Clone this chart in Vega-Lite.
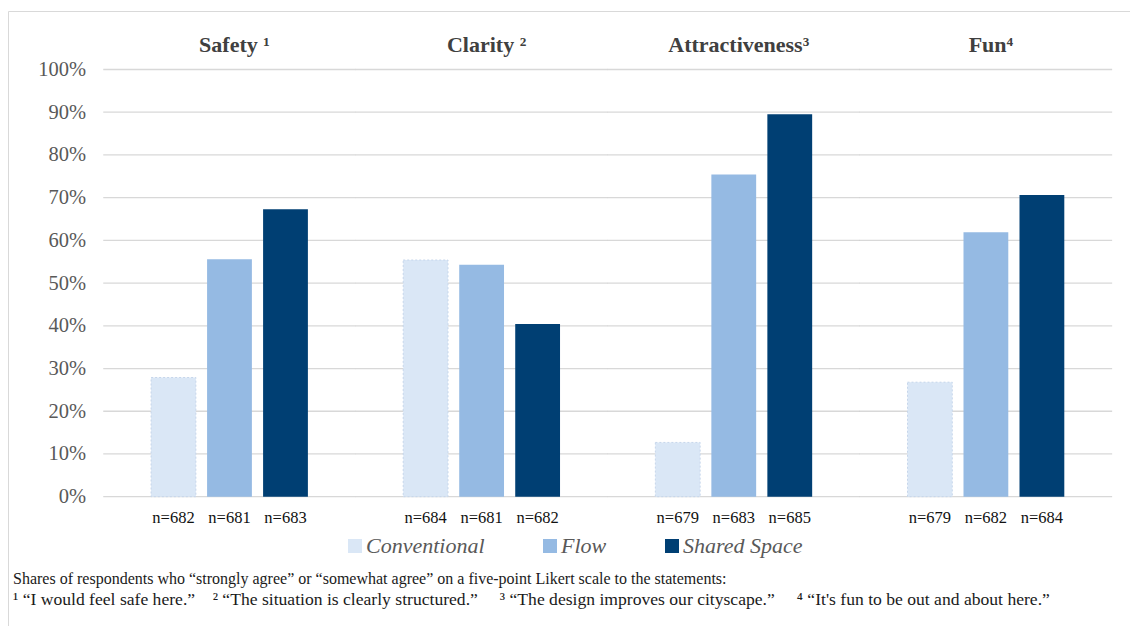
{
  "$schema": "https://vega.github.io/schema/vega-lite/v6.json",
  "autosize": {"type": "none"},
  "padding": {"left": 8, "top": 11, "right": 0, "bottom": 0},
  "width": 1122,
  "height": 615,
  "background": "white",
  "config": {
    "view": {"stroke": "#D9D9D9", "strokeWidth": 1},
    "font": "Liberation Serif"
  },
  "datasets": {
    "shares": [
      {"group": "Safety", "series": "Conventional", "share": 0.279, "n": 682},
      {"group": "Safety", "series": "Flow", "share": 0.556, "n": 681},
      {"group": "Safety", "series": "Shared Space", "share": 0.673, "n": 683},
      {"group": "Clarity", "series": "Conventional", "share": 0.554, "n": 684},
      {"group": "Clarity", "series": "Flow", "share": 0.543, "n": 681},
      {"group": "Clarity", "series": "Shared Space", "share": 0.404, "n": 682},
      {"group": "Attractiveness", "series": "Conventional", "share": 0.127, "n": 679},
      {"group": "Attractiveness", "series": "Flow", "share": 0.754, "n": 683},
      {"group": "Attractiveness", "series": "Shared Space", "share": 0.895, "n": 685},
      {"group": "Fun", "series": "Conventional", "share": 0.268, "n": 679},
      {"group": "Fun", "series": "Flow", "share": 0.619, "n": 682},
      {"group": "Fun", "series": "Shared Space", "share": 0.706, "n": 684}
    ],
    "groups": [
      {"group": "Safety", "label": "Safety ¹"},
      {"group": "Clarity", "label": "Clarity ²"},
      {"group": "Attractiveness", "label": "Attractiveness³"},
      {"group": "Fun", "label": "Fun⁴"}
    ],
    "gridTicks": [
      {"v": 0, "groups": ["Safety", "Clarity", "Attractiveness", "Fun"]},
      {"v": 0.1, "groups": ["Safety", "Clarity", "Attractiveness", "Fun"]},
      {"v": 0.2, "groups": ["Safety", "Clarity", "Attractiveness", "Fun"]},
      {"v": 0.3, "groups": ["Safety", "Clarity", "Attractiveness", "Fun"]},
      {"v": 0.4, "groups": ["Safety", "Clarity", "Attractiveness", "Fun"]},
      {"v": 0.5, "groups": ["Safety", "Clarity", "Attractiveness", "Fun"]},
      {"v": 0.6, "groups": ["Safety", "Clarity", "Attractiveness", "Fun"]},
      {"v": 0.7, "groups": ["Safety", "Clarity", "Attractiveness", "Fun"]},
      {"v": 0.8, "groups": ["Safety", "Clarity", "Attractiveness", "Fun"]},
      {"v": 0.9, "groups": ["Safety", "Clarity", "Attractiveness", "Fun"]},
      {"v": 1, "groups": ["Safety", "Clarity", "Attractiveness", "Fun"]}
    ]
  },
  "title": {
    "text": "Shares of respondents who “strongly  agree” or “somewhat agree” on a five-point  Likert scale to the statements:",
    "subtitle": "¹ “I would  feel safe here.”\u00a0\u00a0\u00a0 ² “The situation is clearly structured.”\u00a0\u00a0\u00a0\u00a0 ³ “The design improves our cityscape.”\u00a0\u00a0\u00a0\u00a0 ⁴ “It's fun to be out and about here.”",
    "orient": "bottom",
    "anchor": "start",
    "frame": "group",
    "offset": -55,
    "dx": 5,
    "font": "Liberation Serif",
    "fontSize": 16,
    "fontWeight": "normal",
    "color": "#1a1a1a",
    "subtitleFont": "Liberation Serif",
    "subtitleFontSize": 17.6,
    "subtitleColor": "#1a1a1a",
    "subtitlePadding": 4
  },
  "layer": [
    {
      "data": {"name": "gridTicks"},
      "transform": [{"flatten": ["groups"], "as": ["group"]}],
      "mark": {"type": "tick", "color": "#C8C8C8", "thickness": 1.3, "size": 252.5},
      "encoding": {
        "x": {"field": "group", "type": "nominal", "sort": ["Safety", "Clarity", "Attractiveness", "Fun"], "axis": null},
        "y": {"field": "v", "type": "quantitative"}
      }
    },
    {
      "data": {"name": "shares"},
      "mark": {"type": "bar", "strokeWidth": 1, "strokeDash": [2, 2]},
      "encoding": {
        "x": {
          "field": "group",
          "type": "nominal",
          "sort": ["Safety", "Clarity", "Attractiveness", "Fun"],
          "scale": {"paddingInner": 0, "paddingOuter": 0.225, "align": 0.841},
          "axis": null
        },
        "xOffset": {
          "field": "series",
          "type": "nominal",
          "sort": ["Conventional", "Flow", "Shared Space"],
          "scale": {"paddingInner": 0.2, "paddingOuter": 0.851}
        },
        "y": {
          "field": "share",
          "type": "quantitative",
          "scale": {"domain": [-0.3027, 1.1369], "nice": false, "zero": false},
          "axis": {
            "orient": "left",
            "offset": -95.5,
            "values": [0, 0.1, 0.2, 0.3, 0.4, 0.5, 0.6, 0.7, 0.8, 0.9, 1],
            "format": ".0%",
            "domain": false,
            "ticks": false,
            "grid": false,
            "labelPadding": 18,
            "labelFont": "Liberation Serif",
            "labelFontSize": 20.5,
            "labelColor": "#595959",
            "title": null
          }
        },
        "y2": {"datum": 0},
        "color": {
          "field": "series",
          "type": "nominal",
          "sort": ["Conventional", "Flow", "Shared Space"],
          "scale": {
            "domain": ["Conventional", "Flow", "Shared Space"],
            "range": ["#DAE7F6", "#95BAE3", "#003F73"]
          },
          "legend": {
            "orient": "none",
            "legendX": 336,
            "legendY": 524,
            "direction": "horizontal",
            "title": null,
            "symbolType": "square",
            "symbolSize": 196,
            "symbolStrokeWidth": 0,
            "labelFont": "Liberation Serif",
            "labelFontSize": 22,
            "labelFontStyle": "italic",
            "labelColor": "#595959",
            "labelOffset": 0,
            "columnPadding": 54
          }
        },
        "stroke": {
          "condition": {"test": "datum.series === 'Conventional'", "value": "#C6D6EB"},
          "value": null
        }
      }
    },
    {
      "data": {"name": "shares"},
      "transform": [{"calculate": "'n=' + datum.n", "as": "nLabel"}],
      "mark": {"type": "text", "fontSize": 16.5, "color": "#111111", "baseline": "middle"},
      "encoding": {
        "x": {"field": "group", "type": "nominal", "sort": ["Safety", "Clarity", "Attractiveness", "Fun"]},
        "xOffset": {"field": "series", "type": "nominal", "sort": ["Conventional", "Flow", "Shared Space"]},
        "y": {"datum": -0.05},
        "text": {"field": "nLabel"}
      }
    },
    {
      "data": {"name": "groups"},
      "mark": {"type": "text", "fontSize": 22, "fontWeight": "bold", "color": "#404040", "baseline": "middle", "dx": 5},
      "encoding": {
        "x": {"field": "group", "type": "nominal", "sort": ["Safety", "Clarity", "Attractiveness", "Fun"]},
        "y": {"datum": 1.057},
        "text": {"field": "label"}
      }
    }
  ]
}
